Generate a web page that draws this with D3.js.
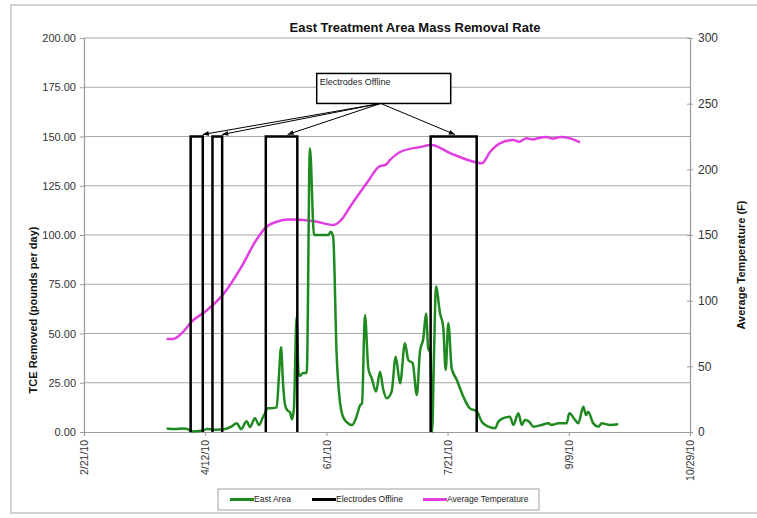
<!DOCTYPE html>
<html>
<head>
<meta charset="utf-8">
<script src="https://cdn.jsdelivr.net/npm/d3@7"></script>
<style>
  body { margin: 0; background: #fff; }
  text { font-family: Arial, "Liberation Sans", sans-serif; }
</style>
</head>
<body>
<svg id="chart" width="757" height="518"></svg>
<script>

// ---- data ----
var startDate = '2/21/10';
var xTickLabels = ['2/21/10', '4/12/10', '6/1/10', '7/21/10', '9/9/10', '10/29/10'];
var leftTicks = [0, 25, 50, 75, 100, 125, 150, 175, 200];
var rightTicks = [0, 50, 100, 150, 200, 250, 300];

// East Area, days after 2/21/10 and TCE removed (lb/day)
var eastDays = [34.1, 37.5, 40.8, 43.3, 44.1, 49.1, 50.7, 54, 58.2, 61.1, 63, 64.8, 67.1, 68.5, 70.5, 72.2,
    73.8, 74.7, 75.5, 76.7, 79.5, 80.4, 81.3, 82.1, 82.9, 83.9, 85, 85.8, 86.6, 87.7, 88.5, 89.1, 90.3,
    91.9, 93.2, 94.9, 97.4, 100.8, 101.8, 102.8, 104.2, 105.6, 106.8, 108.4, 110.6, 112.2, 113.9, 114.7,
    115.9, 117.3, 118.7, 120.5, 122.1, 123.5, 124.9, 126.9, 128.6, 130.4, 132.4, 133.8, 135.6, 137.3,
    138.6, 140, 141.1, 142, 142.9, 143.6, 144.4, 145.2, 146.9, 148.2, 149.2, 150.3, 151.7, 153.8, 156.5,
    159.2, 162, 164.1, 166.8, 169.6, 170.9, 173, 175.7, 177.1, 179.2, 180.6, 181.9, 183.7, 185.4, 188.8,
    191.5, 192.9, 195.7, 199.1, 200.2, 202.6, 203.9, 206, 207.1, 208, 210.1, 212.2, 213.6, 217, 220.4];
var eastTce = [1.8, 1.5, 1.8, 1.2, 0.3, 0.8, 1.5, 1.2, 1.5, 3, 4.5, 1.5, 5.5, 2.5, 7, 3.5,
    7.5, 9.5, 12, 12, 12.5, 28, 43, 25, 14, 11, 10, 6.5, 12, 58.5, 30, 28.5, 30,
    30, 144, 100, 100, 100, 101.7, 99, 40, 15, 8, 5, 3.5, 7, 13.5, 14.6,
    59.4, 32.3, 27.3, 20.5, 30.6, 21.3, 17.1, 20.5, 38.2, 24.7, 45, 36.5, 34.9, 18.8,
    40.8, 47.6, 60.2, 42.5, 40, 0, 40, 73.8, 60.2, 53.4, 31.5, 55.2, 32.3, 26.4, 17.9,
    12, 10.5, 5.2, 2.7, 1.9, 5.2, 7, 7.8, 3.6, 9.5, 3.6, 6.1, 5.2, 2.7, 3.6,
    4.4, 3.6, 4.4, 4.4, 9.5, 6.1, 4.4, 12.8, 8.6, 10.3, 4.4, 2.7, 4.4, 3.6, 3.9];

// Average Temperature, days after 2/21/10 and deg F
var tempDays = [34.1, 36.7, 40.8, 44.3, 50.6, 57.5, 65, 71, 75.3, 79.5, 84.3, 94.6, 102.8, 106.8, 109.7,
    116.6, 122.1, 124.5, 126.2, 130.4, 138.6, 143.4, 151, 162, 164.1, 167.5, 171.6, 177.1, 179.5, 182.6,
    185, 188.1, 190.9, 193.5, 196.4, 200.5, 204.6];
var tempF = [70.8, 70.8, 76, 83.8, 92.5, 105, 125.9, 146, 156.3, 160.1, 161.8, 160.7, 157.6, 163, 171.3,
    189.4, 202.5, 203.5, 207.1, 213.2, 217, 218.5, 212.4, 205.2, 204.6, 213.2, 219.8, 222.3, 221, 223.6,
    222.8, 224.1, 224.6, 223.4, 224.6, 223.6, 220.6];

// Electrodes Offline periods
var offlineStart = ['4/6/10', '4/15/10', '5/7/10', '7/14/10'];
var offlineEnd = ['4/11/10', '4/19/10', '5/20/10', '8/2/10'];
var offlineLevel = 150;
var arrowTargets = ['4/11/10', '4/19/10', '5/16/10', '7/24/10'];

var colors = { east: '#1f8a1f', offline: '#000000', temp: '#e03ee0', grid: '#a8a8a8' };

// ---- layout ----
var margin = { top: 38, right: 67, bottom: 86, left: 84 },
    W = 757, H = 518,
    width = W - margin.left - margin.right,
    height = H - margin.top - margin.bottom;

var parse = d3.timeParse('%m/%d/%y');
var t0 = parse(startDate);
function dayToDate(d) { return d3.timeMinute.offset(t0, Math.round(d * 1440)); }

var svg = d3.select('#chart');

// outer frame
svg.append('rect')
    .attr('x', 11).attr('y', 5)
    .attr('width', 770).attr('height', 508)
    .attr('fill', 'none')
    .attr('stroke', '#d2d2d2')
    .attr('stroke-width', 2);

var g = svg.append('g').attr('transform', 'translate(' + margin.left + ',' + margin.top + ')');

var x = d3.scaleTime()
    .domain([parse(xTickLabels[0]), parse(xTickLabels[xTickLabels.length - 1])])
    .range([0, width]);
var yL = d3.scaleLinear().domain([0, 200]).range([height, 0]);
var yR = d3.scaleLinear().domain([0, 300]).range([height, 0]);

// gridlines
g.selectAll('.grid')
    .data(leftTicks.slice(1)).enter()
    .append('line')
    .attr('x1', 0).attr('x2', width)
    .attr('y1', function(d){ return yL(d); })
    .attr('y2', function(d){ return yL(d); })
    .attr('stroke', colors.grid)
    .attr('stroke-width', 1.2);

// left axis
var leftAxis = g.append('g')
    .call(d3.axisLeft(yL).tickValues(leftTicks).tickFormat(d3.format('.2f')).tickSize(4).tickPadding(4));
// right axis
var rightAxis = g.append('g')
    .attr('transform', 'translate(' + width + ',0)')
    .call(d3.axisRight(yR).tickValues(rightTicks).tickSize(3).tickPadding(5));
rightAxis.selectAll('.tick line').attr('x1', -3);
// bottom axis
var bottomAxis = g.append('g')
    .attr('transform', 'translate(0,' + height + ')')
    .call(d3.axisBottom(x).tickValues(xTickLabels.map(parse)).tickFormat(d3.timeFormat('%-m/%-d/%y')).tickSize(4));
bottomAxis.selectAll('text')
    .attr('transform', 'rotate(-90)')
    .attr('text-anchor', 'end')
    .attr('x', -8).attr('y', 0).attr('dy', '0.35em')
    .style('font-size', '10.5px');

[leftAxis, rightAxis, bottomAxis].forEach(function(a){
    a.select('.domain').attr('stroke', '#9a9a9a').attr('stroke-width', 1.2);
    a.selectAll('.tick line').attr('stroke', '#9a9a9a');
    a.selectAll('text').attr('fill', '#333').style('font-family', 'Arial, "Liberation Sans", sans-serif');
});
leftAxis.selectAll('text').style('font-size', '11px');
rightAxis.selectAll('text').style('font-size', '12px');

// Average Temperature
var tempData = tempDays.map(function(d, i){ return { date: dayToDate(d), v: tempF[i] }; });
g.append('path')
    .datum(tempData)
    .attr('fill', 'none')
    .attr('stroke', colors.temp)
    .attr('stroke-width', 2.5)
    .attr('d', d3.line().curve(d3.curveMonotoneX)
        .x(function(d){ return x(d.date); })
        .y(function(d){ return yR(d.v); }));

// East Area
var eastData = eastDays.map(function(d, i){ return { date: dayToDate(d), v: eastTce[i] }; });
g.append('path')
    .datum(eastData)
    .attr('fill', 'none')
    .attr('stroke', colors.east)
    .attr('stroke-width', 2.5)
    .attr('stroke-linejoin', 'round')
    .attr('d', d3.line().curve(d3.curveMonotoneX)
        .x(function(d){ return x(d.date); })
        .y(function(d){ return yL(d.v); }));

// Electrodes Offline
var offData = offlineStart.map(function(s, i){ return { s: parse(s), e: parse(offlineEnd[i]) }; });
g.selectAll('.offline')
    .data(offData).enter()
    .append('path')
    .attr('fill', 'none')
    .attr('stroke', colors.offline)
    .attr('stroke-width', 2.5)
    .attr('d', function(d){
        return d3.line()([[x(d.s), yL(0)], [x(d.s), yL(offlineLevel)], [x(d.e), yL(offlineLevel)], [x(d.e), yL(0)]]);
    });

// annotation box + arrows
svg.append('defs').append('marker')
    .attr('id', 'arrow')
    .attr('viewBox', '0 0 10 10')
    .attr('refX', 10).attr('refY', 5)
    .attr('markerWidth', 7).attr('markerHeight', 6)
    .attr('orient', 'auto')
    .append('path').attr('d', 'M0,1L10,5L0,9Z').attr('fill', '#000');

var boxX = x(parse('5/28/10')), boxY = yL(182), boxW = 134, boxH = 30;
var originX = boxX + 64, originY = boxY + boxH;

g.selectAll('.arrow')
    .data(arrowTargets).enter()
    .append('line')
    .attr('x1', originX).attr('y1', originY)
    .attr('x2', function(d){ return x(parse(d)); })
    .attr('y2', yL(offlineLevel) - 2)
    .attr('stroke', '#000')
    .attr('stroke-width', 1)
    .attr('marker-end', 'url(#arrow)');

g.append('rect')
    .attr('x', boxX).attr('y', boxY)
    .attr('width', boxW).attr('height', boxH)
    .attr('fill', '#fff')
    .attr('stroke', '#000')
    .attr('stroke-width', 1.5);
g.append('text')
    .attr('x', boxX + 3).attr('y', boxY + 12)
    .style('font-size', '9px')
    .attr('fill', '#222')
    .text('Electrodes Offline');

// titles
svg.append('text')
    .attr('x', 415).attr('y', 32)
    .attr('text-anchor', 'middle')
    .style('font-size', '13px').style('font-weight', 'bold')
    .attr('fill', '#111')
    .text('East Treatment Area Mass Removal Rate');
svg.append('text')
    .attr('transform', 'translate(37,310) rotate(-90)')
    .attr('text-anchor', 'middle')
    .style('font-size', '11px').style('font-weight', 'bold')
    .attr('fill', '#111')
    .text('TCE Removed (pounds per day)');
svg.append('text')
    .attr('transform', 'translate(745,265) rotate(-90)')
    .attr('text-anchor', 'middle')
    .style('font-size', '11px').style('font-weight', 'bold')
    .attr('fill', '#111')
    .text('Average Temperature (F)');

// legend
var legendItems = [
    { name: 'East Area', color: colors.east, x: 230 },
    { name: 'Electrodes Offline', color: colors.offline, x: 312 },
    { name: 'Average Temperature', color: colors.temp, x: 423 }
];
var legend = svg.append('g');
legend.append('rect')
    .attr('x', 218).attr('y', 489)
    .attr('width', 321).attr('height', 21)
    .attr('fill', '#fff')
    .attr('stroke', '#a0a0a0');
var li = legend.selectAll('.item')
    .data(legendItems).enter()
    .append('g')
    .attr('transform', function(d){ return 'translate(' + d.x + ',499.5)'; });
li.append('line')
    .attr('x1', 0).attr('x2', 24)
    .attr('stroke', function(d){ return d.color; })
    .attr('stroke-width', 3);
li.append('text')
    .attr('x', 24).attr('dy', '0.35em')
    .style('font-size', '8.5px')
    .attr('fill', '#222')
    .text(function(d){ return d.name; });

</script>
</body>
</html>
